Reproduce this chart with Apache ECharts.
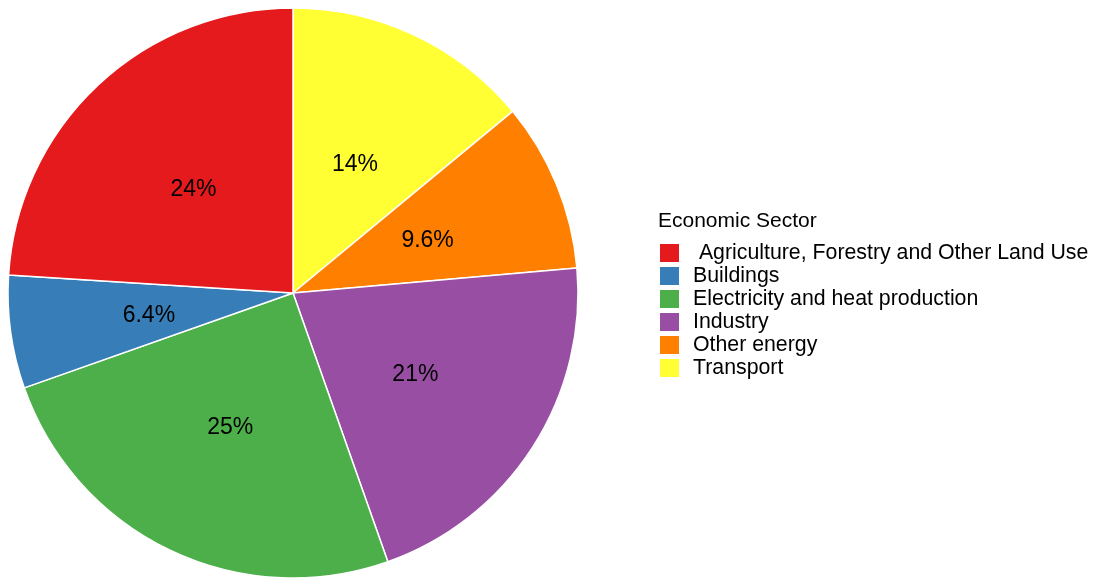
<!DOCTYPE html>
<html>
<head>
<meta charset="utf-8">
<script src="https://cdn.jsdelivr.net/npm/echarts@6/dist/echarts.min.js"></script>
<style>
  html, body { margin: 0; padding: 0; background: #fff; }
  #chart { width: 1094px; height: 579px; }
</style>
</head>
<body>
<div id="chart"></div>
<script>
// Share of emissions by economic sector (percent)
const sectors = [' Agriculture, Forestry and Other Land Use', 'Buildings', 'Electricity and heat production', 'Industry', 'Other energy', 'Transport'];
const shares = [24, 6.4, 25, 21, 9.6, 14];
const sectorColors = ['#E41A1C', '#377EB8', '#4DAF4A', '#984EA3', '#FF7F00', '#FFFF33'];

// Slices run clockwise from 12 o'clock, last sector first
const order = [5, 4, 3, 2, 1, 0];
const pieData = order.map(i => ({
  name: sectors[i],
  value: shares[i],
  itemStyle: { color: sectorColors[i] }
}));

const FONT = 'Liberation Sans, Arial, sans-serif';

const chart = echarts.init(document.getElementById('chart'), null, { renderer: 'canvas' });
chart.setOption({
  animation: false,
  backgroundColor: '#ffffff',
  textStyle: { fontFamily: FONT },
  title: {
    text: 'Economic Sector',
    left: 653,
    top: 206,
    textStyle: { fontSize: 21, fontWeight: 'normal', color: '#000', fontFamily: FONT }
  },
  legend: {
    orient: 'vertical',
    left: 658,
    top: 242,
    data: sectors,
    icon: 'rect',
    itemWidth: 21,
    itemHeight: 20,
    itemGap: 1,
    padding: 0,
    selectedMode: false,
    textStyle: { fontSize: 21.3, lineHeight: 20, color: '#000', padding: [0, 0, 0, 8], fontFamily: FONT }
  },
  series: [{
    type: 'pie',
    center: [293, 293],
    radius: [0, 285],
    startAngle: 90,
    clockwise: true,
    avoidLabelOverlap: false,
    itemStyle: { borderColor: '#ffffff', borderWidth: 1.5 },
    label: {
      show: true,
      position: 'inside',
      formatter: p => p.value + '%',
      fontSize: 23,
      color: '#000',
      fontFamily: FONT,
      offset: [0, 3]
    },
    labelLine: { show: false },
    emphasis: { disabled: true },
    data: pieData
  }]
});
</script>
</body>
</html>
